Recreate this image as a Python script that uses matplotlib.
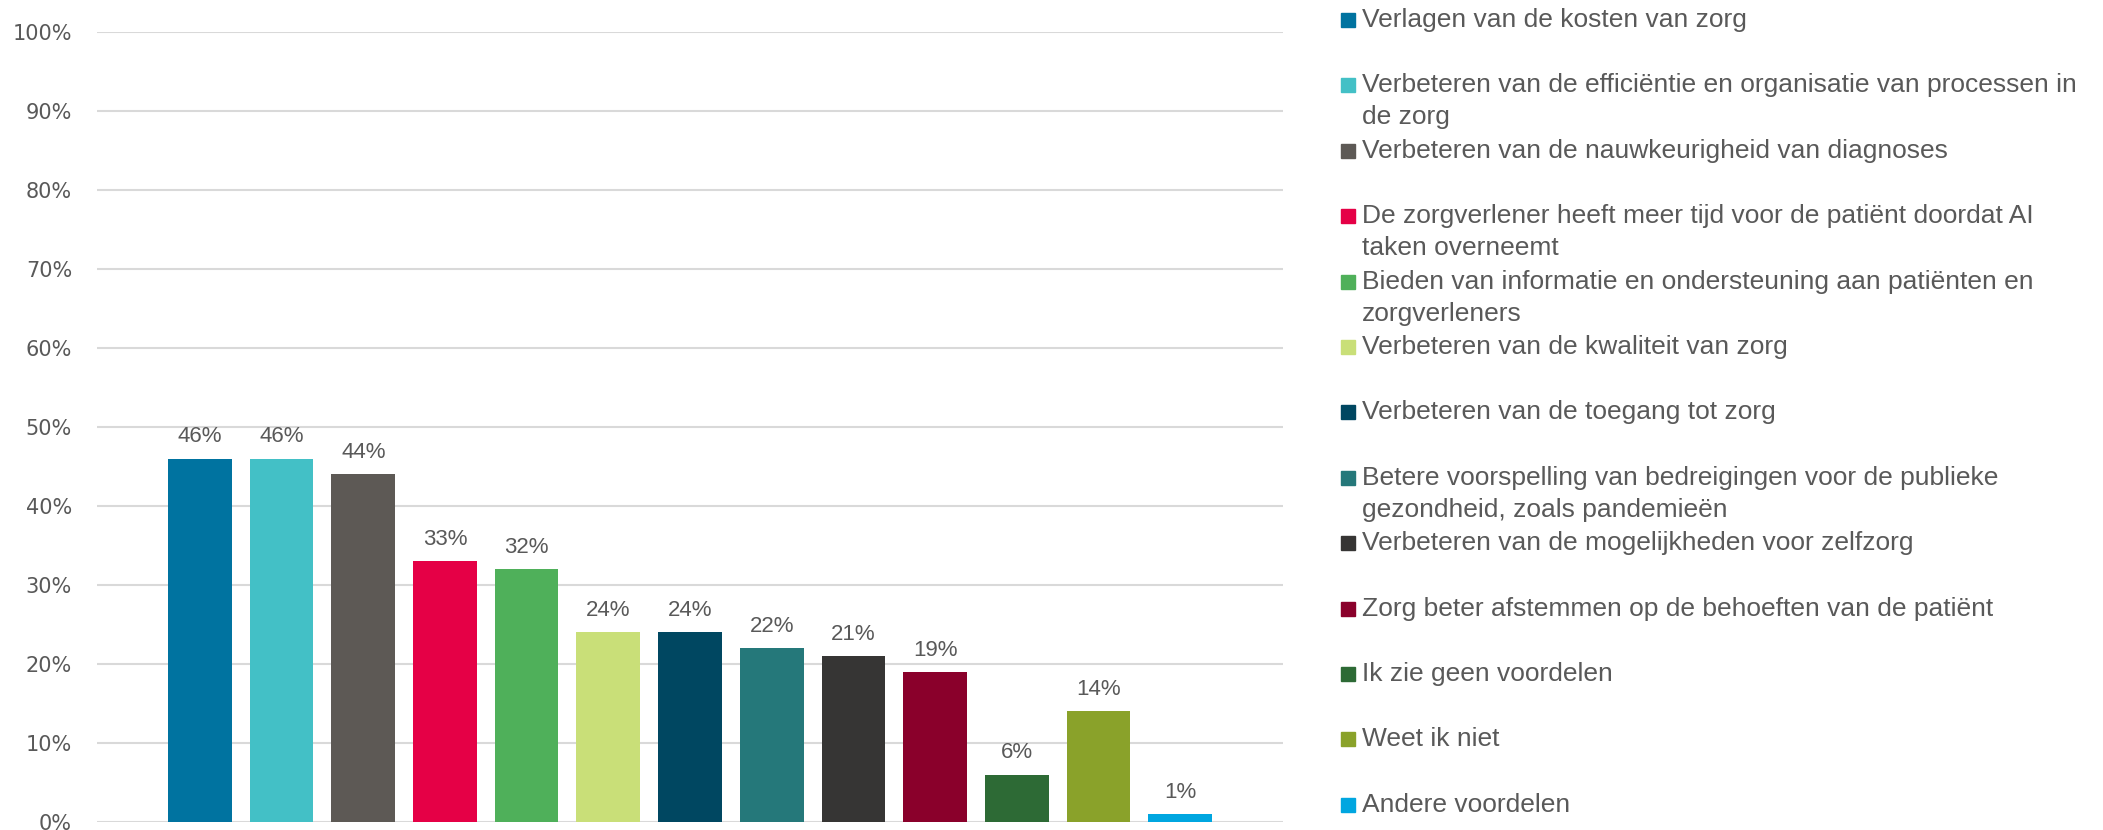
import matplotlib
matplotlib.use("Agg")
import matplotlib.pyplot as plt
from matplotlib import font_manager
from matplotlib.patches import Rectangle

categories = [
    "Verlagen van de kosten van zorg",
    "Verbeteren van de efficiëntie en organisatie van processen in\nde zorg",
    "Verbeteren van de nauwkeurigheid van diagnoses",
    "De zorgverlener heeft meer tijd voor de patiënt doordat AI\ntaken overneemt",
    "Bieden van informatie en ondersteuning aan patiënten en\nzorgverleners",
    "Verbeteren van de kwaliteit van zorg",
    "Verbeteren van de toegang tot zorg",
    "Betere voorspelling van bedreigingen voor de publieke\ngezondheid, zoals pandemieën",
    "Verbeteren van de mogelijkheden voor zelfzorg",
    "Zorg beter afstemmen op de behoeften van de patiënt",
    "Ik zie geen voordelen",
    "Weet ik niet",
    "Andere voordelen",
]
values = [46, 46, 44, 33, 32, 24, 24, 22, 21, 19, 6, 14, 1]
colors = [
    "#0073A0", "#43C0C6", "#5D5955", "#E50046", "#4FB05A", "#C9DF78",
    "#004761", "#25787A", "#363534", "#8A002B", "#2D6A35", "#8AA22A", "#00A6E0",
]
yticks = list(range(0, 101, 10))

available = {f.name for f in font_manager.fontManager.ttflist}
narrow = "Liberation Sans Narrow" if "Liberation Sans Narrow" in available else "Liberation Sans"
text_color = "#595959"

W, H = 2103, 830
fig = plt.figure(figsize=(W / 100, H / 100), dpi=100)
ax = fig.add_axes([97 / W, 8 / H, (1283 - 97) / W, (822 - 32) / H])

x = list(range(len(values)))
ax.bar(x, values, width=0.78, color=colors, zorder=2)
for xi, v in zip(x, values):
    ax.annotate(f"{v}%", (xi, v), xytext=(0, 8), textcoords="offset points",
                ha="center", va="bottom", fontsize=16, color=text_color,
                family=narrow)

ax.set_ylim(0, 100)
ax.set_xlim(-1.26, len(values) - 1 + 1.26)
ax.set_yticks(yticks)
ax.set_yticklabels([f"{t}%" for t in yticks], fontsize=15, color=text_color,
                   family="DejaVu Sans")
ax.set_xticks([])
ax.tick_params(axis="y", length=0, pad=18)
ax.grid(axis="y", color="#D9D9D9", linewidth=1.5, zorder=0)
for s in ax.spines.values():
    s.set_visible(False)

# legend drawn by hand so wrapped entries keep Excel's spacing
row_step = 65.4
line_h = 32
for i, (label, c) in enumerate(zip(categories, colors)):
    yc = 20 + i * row_step
    fig.add_artist(Rectangle((1341 / W, 1 - (yc + 7) / H), 14 / W, 14 / H,
                             transform=fig.transFigure, color=c))
    for j, line in enumerate(label.split("\n")):
        fig.text(1362 / W, 1 - (yc + j * line_h) / H, line, ha="left",
                 va="center", fontsize=19, color=text_color, family=narrow)

fig.savefig("out.png", dpi=100)
